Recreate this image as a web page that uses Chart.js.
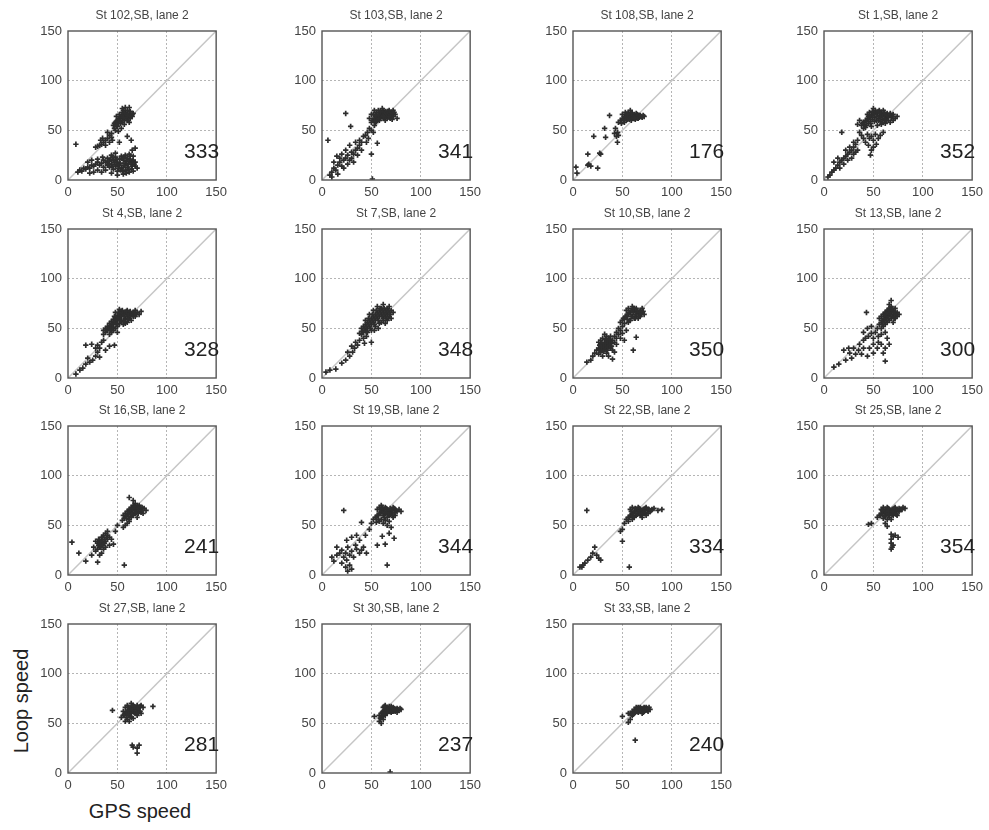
<!DOCTYPE html>
<html>
<head>
<meta charset="utf-8">
<script src="https://cdn.jsdelivr.net/npm/chart.js@4.4.0/dist/chart.umd.min.js"></script>
<style>
  body { margin: 0; background: #fff; width: 989px; height: 830px; position: relative; overflow: hidden;
         font-family: "Liberation Sans", Arial, sans-serif; }
  canvas.panel { position: absolute; }
  .axlab { position: absolute; font-size: 20px; color: #222; white-space: nowrap; line-height: 1; }
  #ylab { left: 21px; top: 701px; transform: translate(-50%, -50%) rotate(-90deg); }
  #xlab { left: 140px; top: 811px; transform: translate(-50%, -50%); }
</style>
</head>
<body>
<div id="ylab" class="axlab">Loop speed</div>
<div id="xlab" class="axlab">GPS speed</div>
<script>
// panel titles and vehicle counts
const stations = ['St 102,SB, lane 2', 'St 103,SB, lane 2', 'St 108,SB, lane 2', 'St 1,SB, lane 2',
                  'St 4,SB, lane 2', 'St 7,SB, lane 2', 'St 10,SB, lane 2', 'St 13,SB, lane 2',
                  'St 16,SB, lane 2', 'St 19,SB, lane 2', 'St 22,SB, lane 2', 'St 25,SB, lane 2',
                  'St 27,SB, lane 2', 'St 30,SB, lane 2', 'St 33,SB, lane 2'];
const counts = [333, 341, 176, 352, 328, 348, 350, 300, 241, 344, 334, 354, 281, 237, 240];
const axisTicks = [0, 50, 100, 150];
const diagonal = [0, 150];

// [GPS speed, Loop speed] pairs
const st102 = [[46,55],[48,58],[50,60],[52,62],[54,64],[56,66],[58,68],[60,67],[62,66],[64,65],[66,67],[50,54],[53,57],[55,60],[57,62],[59,64],[61,63],[63,62],[65,64],[52,66],[55,68],[58,64],[60,60],[62,58],[57,56],[54,52],[48,50],[51,49],[44,47],[47,52],[60,70],[63,69],[56,70],[49,64],[58,73],[55,72],[62,73],
  [47,57],[49,59],[51,61],[53,63],[55,65],[57,67],[59,66],[61,65],[63,67],[65,66],[51,57],[53,59],[55,58],[57,60],[59,62],[61,60],[63,64],[49,55],[56,63],[60,65],
  [42,45],[40,42],[38,40],[36,38],[34,36],[32,35],[30,34],[28,33],[38,35],[42,38],[45,40],[35,42],[40,48],[44,43],[33,40],[64,40],[68,32],[60,44],[52,38],[65,30],[8,36],
  [10,8],[12,10],[14,9],[16,12],[18,11],[20,13],[22,12],[24,15],[26,14],[28,16],[30,18],[32,15],[34,17],[36,20],[38,18],[40,22],[42,19],[44,16],[46,20],[48,23],[50,18],[52,21],[54,24],[56,20],[58,17],[60,22],[62,19],[64,16],[66,20],[68,14],[70,12],[66,9],[62,8],[58,10],[54,12],[50,9],[46,11],[42,13],[38,10],[34,8],[30,10],[26,8],[22,7],[44,25],[48,14],[52,15],[56,13],[60,13],[64,11],[68,18],[56,6],[50,5],[44,7],[40,15],[36,13],[58,25],[62,26],[48,27],[66,24],[24,20],[20,18],[30,21],[35,23],[40,19],
  [41,16],[43,21],[45,14],[47,18],[49,21],[51,12],[53,17],[55,22],[57,15],[59,19],[61,16],[63,21],[65,14],[67,16],[45,23],[49,16],[53,10],[57,23],[61,11],[65,18],[55,9],[59,7],[63,24]];
const st103 = [[50,58],[52,60],[54,62],[56,64],[58,66],[60,68],[62,70],[64,69],[66,67],[68,66],[70,65],[72,64],[74,66],[52,66],[55,68],[57,70],[60,64],[62,62],[64,60],[66,62],[68,63],[70,68],[72,70],[58,60],[61,66],[63,65],[65,64],[67,69],[69,62],[54,58],[56,61],[59,63],[48,62],[50,66],[53,70],[61,72],[76,62],[71,61],
  [51,60],[53,62],[55,64],[57,62],[59,65],[61,68],[63,67],[65,66],[67,64],[69,66],[71,67],[73,68],[55,59],[57,66],[59,69],[63,63],[66,69],[68,70],[62,64],[54,65],
  [48,52],[46,48],[50,50],[44,45],[52,48],[47,42],[56,37],[50,26],[51,1],[42,44],[45,38],[53,55],[38,40],
  [8,5],[10,8],[12,12],[14,10],[16,15],[18,18],[20,14],[22,20],[24,22],[26,25],[28,20],[30,28],[32,26],[34,30],[36,32],[38,35],[40,30],[20,26],[24,30],[28,35],[30,22],[34,38],[26,16],[22,12],[18,22],[15,24],[32,18],[36,25],[40,38],[12,18],[10,3],[16,6],
  [24,67],[6,40],[29,54]];
const st108 = [[48,60],[50,62],[52,64],[54,66],[56,68],[58,65],[60,63],[62,66],[64,64],[66,62],[68,65],[70,63],[72,64],[52,58],[55,61],[57,63],[59,60],[61,62],[63,61],[65,66],[67,63],[50,66],[53,68],[56,62],[58,70],[46,58],[49,57],[54,60],[60,67],
  [51,61],[53,63],[55,64],[57,61],[59,64],[61,65],[63,63],[65,62],[67,65],[69,64],[71,65],[55,66],[59,67],[62,62],[64,67],
  [37,65],[43,52],[45,48],[46,45],[42,47],[44,44],[32,52],[21,44],[33,43],[45,38],[15,26],[27,27],[15,15],[18,14],[25,12],[3,13],[4,7],[16,16],[28,26]];
const st1 = [[38,55],[40,58],[42,60],[44,62],[46,64],[48,66],[50,68],[52,70],[54,67],[56,65],[58,68],[60,66],[62,64],[64,67],[66,65],[68,63],[70,66],[72,62],[40,52],[43,55],[45,57],[47,59],[49,61],[51,63],[53,60],[55,62],[57,59],[59,61],[61,60],[63,62],[65,60],[67,58],[46,68],[50,72],[56,70],[60,70],[44,66],[54,55],[58,56],[48,54],[36,60],[34,56],[62,57],[70,60],[74,64],
  [41,56],[43,59],[45,61],[47,63],[49,65],[51,66],[53,68],[55,69],[57,67],[59,64],[61,68],[63,65],[65,63],[67,67],[69,64],[47,57],[51,59],[55,60],[59,58],[63,60],[49,69],[53,64],[57,63],[45,64],[61,62],[39,57],[42,53],
  [36,48],[38,45],[40,42],[42,38],[44,46],[46,42],[48,44],[50,40],[52,46],[55,42],[57,45],[60,48],[45,35],[50,33],[53,36],[48,30],[47,25],[34,40],[32,36],[30,33],[28,30],[26,28],[24,26],[22,24],[20,22],[18,20],[16,18],[14,15],[12,12],[10,10],[8,8],[6,5],[4,3],[24,20],[28,22],[30,26],[32,28],[26,33],[22,30],[20,16],[16,12],[34,30],[30,38],[18,48],[14,22],[10,18]];
const st4 = [[36,44],[38,46],[40,48],[42,50],[44,52],[46,54],[48,56],[50,58],[52,60],[54,62],[56,64],[58,66],[60,68],[62,66],[64,64],[66,66],[68,68],[70,66],[72,64],[74,67],[40,52],[42,55],[44,57],[46,59],[48,61],[50,63],[52,65],[54,67],[56,58],[58,60],[60,62],[62,60],[64,58],[66,62],[50,52],[52,55],[54,57],[46,48],[44,46],[48,50],[42,44],[38,50],[36,48],[56,54],[60,56],[62,63],[58,55],[68,62],[48,66],[52,69],[44,48],[50,46],
  [41,50],[43,53],[45,55],[47,57],[49,59],[51,61],[53,63],[55,65],[57,62],[59,64],[61,65],[63,62],[65,64],[67,65],[69,64],[45,51],[49,54],[53,58],[57,57],[61,59],[51,66],[55,68],[59,67],[63,67],[47,62],[39,48],[43,49],
  [8,4],[12,8],[15,10],[18,14],[22,16],[25,18],[28,22],[30,26],[32,30],[34,36],[18,33],[24,34],[30,33],[32,21],[38,28],[42,32],[47,33],[36,38],[28,30],[20,20]];
const st7 = [[40,44],[42,46],[44,48],[46,50],[48,52],[50,54],[52,56],[54,58],[56,60],[58,62],[60,64],[62,66],[64,68],[66,70],[68,72],[70,68],[72,66],[42,52],[44,54],[46,56],[48,58],[50,60],[52,62],[54,64],[56,66],[58,68],[60,70],[62,60],[64,62],[66,64],[68,62],[70,60],[46,46],[50,48],[54,52],[58,55],[62,58],[66,58],[44,58],[48,64],[52,68],[56,72],[62,74],[40,50],[60,56],[64,55],[38,45],[57,50],[53,48],[68,66],
  [43,50],[45,52],[47,54],[49,56],[51,58],[53,60],[55,62],[57,64],[59,66],[61,68],[63,70],[65,66],[67,68],[69,64],[47,60],[51,64],[55,68],[59,70],[57,58],[61,62],[65,60],[49,50],[53,54],[45,47],[63,64],[67,60],[41,47],
  [4,6],[8,8],[14,9],[20,15],[24,18],[28,22],[31,26],[33,30],[36,33],[38,38],[43,35],[50,36],[42,40],[34,36],[26,26],[30,32],[45,42]];
const st10 = [[48,56],[50,58],[52,60],[54,62],[56,64],[58,66],[60,68],[62,70],[64,67],[66,65],[68,68],[70,66],[72,64],[54,68],[56,70],[60,62],[62,60],[64,62],[66,60],[68,62],[70,70],[58,58],[52,55],[56,56],[60,72],[64,70],[50,52],[46,50],[48,48],
  [51,60],[53,62],[55,64],[57,66],[59,68],[61,66],[63,64],[65,68],[67,66],[69,64],[71,67],[59,62],[63,60],[57,58],[61,70],[55,59],[67,62],
  [44,46],[46,44],[42,42],[50,45],[54,48],[48,40],[52,38],
  [24,28],[26,30],[28,32],[30,34],[32,36],[34,38],[36,40],[38,42],[40,38],[42,36],[44,34],[26,24],[28,26],[30,28],[32,30],[34,32],[36,34],[38,30],[40,28],[42,26],[30,22],[34,25],[36,22],[26,36],[30,40],[34,42],[38,36],[44,40],[28,38],[32,44],
  [27,29],[29,31],[31,33],[33,35],[35,37],[37,39],[31,27],[33,29],[35,31],[37,33],[39,35],[29,35],[33,39],[27,33],[35,28],[39,32],
  [64,41],[61,28],[40,19],[14,16],[18,18],[20,22],[22,25]];
const st13 = [[56,54],[58,56],[60,58],[62,60],[64,62],[66,64],[68,66],[70,68],[72,70],[74,66],[76,64],[58,62],[60,64],[62,66],[64,68],[66,70],[68,72],[70,62],[72,60],[74,62],[62,54],[64,56],[66,58],[68,60],[60,52],[58,50],[70,56],[68,78],[66,74],[56,60],[72,65],
  [59,58],[61,60],[63,62],[65,64],[67,66],[69,68],[71,66],[73,64],[61,64],[63,66],[65,68],[67,70],[69,62],[65,60],[63,58],[71,60],[67,64],[59,54],[61,56],[69,70],
  [43,66],[54,50],[52,46],[48,45],[45,42],[42,40],[40,38],[50,40],[55,42],[58,44],[62,46],[64,40],[66,34],[62,30],[60,25],[62,17],[55,36],[50,34],[46,30],[40,30],[35,28],[30,30],[25,30],[20,28],[32,24],[38,24],[44,22],[50,25],[28,20],[22,18],[15,14],[10,11],[36,34],[26,25],[48,52],[44,50],[40,46],[54,30],[58,34]];
const st16 = [[55,55],[57,57],[59,59],[61,61],[63,63],[65,65],[67,67],[69,66],[71,64],[73,66],[75,68],[77,67],[79,65],[58,62],[60,64],[62,66],[64,68],[66,70],[68,72],[70,70],[72,70],[74,63],[62,56],[64,58],[66,60],[68,62],[60,52],[58,50],[56,48],[62,78],[66,75],[76,62],[56,60],[70,58],
  [59,57],[61,59],[63,61],[65,63],[67,65],[69,68],[71,67],[73,68],[75,65],[61,64],[63,66],[65,67],[67,69],[69,63],[65,61],[71,62],[59,60],[62,54],
  [28,24],[30,26],[32,28],[34,30],[36,32],[38,34],[40,36],[42,38],[30,32],[32,35],[34,38],[36,40],[38,42],[40,44],[42,30],[36,26],[34,22],[32,20],[38,28],[44,36],[46,31],[26,28],[28,34],[40,40],[48,44],[50,50],
  [31,30],[33,32],[35,34],[37,36],[39,38],[33,28],[35,30],[37,32],[31,36],[35,38],
  [4,33],[11,22],[18,14],[30,13],[57,10],[24,20]];
const st19 = [[52,56],[54,58],[56,60],[58,62],[60,64],[62,66],[64,68],[66,66],[68,64],[70,66],[72,68],[74,66],[76,64],[78,66],[56,66],[58,68],[60,70],[62,60],[64,62],[66,58],[68,60],[70,62],[72,58],[74,60],[60,56],[64,55],[68,54],[66,50],[70,48],[62,52],[58,54],[55,53],[50,52],[80,64],
  [55,58],[57,60],[59,62],[61,64],[63,66],[65,67],[67,65],[69,67],[71,65],[73,67],[75,65],[61,68],[63,62],[65,63],[67,61],[69,61],[71,60],[59,66],[57,56],[63,58],[73,63],
  [22,65],[40,53],[10,18],[12,14],[15,20],[15,28],[18,22],[20,25],[22,18],[24,22],[25,15],[26,28],[28,10],[28,20],[30,6],[30,24],[32,18],[34,30],[35,26],[38,22],[40,25],[42,28],[45,22],[38,35],[35,40],[30,38],[25,35],[20,12],[24,8],[26,4],[44,40],[48,46],[64,31],[66,10],[73,37],[61,39],[68,42],[56,30]];
const st22 = [[54,56],[56,58],[58,60],[60,62],[62,64],[64,66],[66,68],[68,66],[70,64],[72,66],[74,68],[76,66],[78,64],[80,66],[58,66],[60,68],[62,58],[64,60],[66,62],[68,60],[70,58],[72,62],[74,60],[56,54],[60,56],[52,52],[82,67],[86,65],[90,66],[76,62],
  [57,58],[59,60],[61,62],[63,64],[65,66],[67,67],[69,65],[71,66],[73,67],[75,65],[77,66],[63,67],[65,61],[67,63],[69,61],[71,62],[61,59],[59,64],[73,63],[79,65],
  [14,65],[50,46],[48,44],[50,34],[57,8],[7,8],[9,8],[12,12],[15,15],[18,18],[22,28],[26,17],[28,15],[20,22],[24,20],[10,10]];
const st25 = [[54,58],[56,60],[58,62],[60,64],[62,66],[64,68],[66,66],[68,64],[70,66],[72,68],[74,66],[76,64],[78,66],[80,68],[82,67],[58,66],[60,68],[62,60],[64,62],[66,60],[68,62],[70,60],[72,62],[74,60],[60,57],[64,56],[66,58],[68,56],[70,64],[76,67],
  [57,60],[59,62],[61,64],[63,66],[65,67],[67,65],[69,66],[71,67],[73,65],[75,65],[77,66],[63,63],[65,61],[67,63],[69,61],[71,63],[61,59],[59,65],[73,61],[79,66],[65,64],[69,64],
  [45,51],[48,52],[64,49],[62,52],[68,41],[68,36],[68,32],[69,28],[68,26],[70,39],[72,40],[75,38],[70,30]];
const st27 = [[54,56],[56,58],[58,60],[60,62],[62,64],[64,66],[66,68],[68,66],[70,64],[72,66],[74,68],[76,66],[58,66],[60,68],[62,58],[64,60],[66,62],[68,60],[70,58],[72,62],[74,60],[60,54],[62,52],[64,56],[66,55],[56,62],[70,68],[64,70],[58,52],
  [57,59],[59,61],[61,63],[63,65],[65,67],[67,65],[69,65],[71,65],[73,67],[61,66],[63,61],[65,63],[67,61],[69,61],[71,60],[73,62],[59,56],[63,57],[61,59],[67,67],
  [45,63],[86,67],[65,28],[66,26],[70,25],[72,28],[70,20]];
const st30 = [[58,58],[60,60],[62,62],[64,64],[66,66],[68,65],[70,64],[72,66],[74,64],[76,65],[78,63],[80,64],[62,66],[64,68],[66,60],[68,62],[70,61],[72,62],[74,62],[60,56],[62,54],[58,52],[68,67],[76,61],[60,50],[64,58],
  [61,61],[63,63],[65,65],[67,64],[69,65],[71,65],[73,65],[75,64],[77,64],[63,67],[65,61],[67,62],[69,62],[71,62],[73,63],[61,57],[63,59],[59,55],[79,65],[66,63],[70,67],
  [53,57],[69,1]];
const st33 = [[58,60],[60,62],[62,64],[64,66],[66,64],[68,62],[70,64],[72,66],[74,64],[76,62],[78,64],[62,60],[64,62],[66,66],[68,66],[70,60],[72,62],[74,66],[60,58],[56,60],[77,66],[66,61],
  [61,61],[63,63],[65,65],[67,63],[69,63],[71,65],[73,65],[75,63],[63,61],[65,62],[67,65],[69,65],[71,61],[73,63],[61,59],[59,59],[75,65],[68,64],
  [50,57],[56,51],[58,54],[63,33]];

const panelPoints = [st102, st103, st108, st1, st4, st7, st10, st13, st16, st19, st22, st25, st27, st30, st33];

// page layout of the plot boxes
const colLeft = [68, 322, 573, 824];
const rowTop = [31, 229, 426, 624];
const boxW = 150, boxH = 149;
const padL = 40, padT = 26, padR = 14, padB = 22;

const font = '"Liberation Sans", Arial, sans-serif';

const panelDecor = {
  id: 'panelDecor',
  afterDraw(chart, args, opts) {
    const { ctx, chartArea: a } = chart;
    ctx.save();
    ctx.strokeStyle = '#555';
    ctx.lineWidth = 1.4;
    ctx.strokeRect(a.left, a.top, a.right - a.left, a.bottom - a.top);
    ctx.fillStyle = '#444';
    ctx.font = '12px ' + font;
    ctx.textAlign = 'center';
    ctx.textBaseline = 'middle';
    ctx.fillText(opts.title, (a.left + a.right) / 2, a.top - 15);
    ctx.fillStyle = '#222';
    ctx.font = '21px ' + font;
    ctx.textAlign = 'right';
    ctx.fillText(String(opts.count), a.right + 3, a.bottom - 28);
    ctx.restore();
  }
};

function axis(isX) {
  return {
    type: 'linear',
    min: 0,
    max: 150,
    afterBuildTicks: s => { s.ticks = axisTicks.map(v => ({ value: v })); },
    afterFit: s => { if (isX) s.height = padB; else s.width = padL; },
    grid: {
      drawTicks: false,
      lineWidth: 1,
      color: c => (c.tick && (c.tick.value === 0 || c.tick.value === 150)) ? 'rgba(0,0,0,0)' : '#b5b5b5'
    },
    border: { display: false, dash: [2, 2] },
    ticks: { padding: isX ? 5 : 6, color: '#444', font: { size: 13, family: font } }
  };
}

stations.forEach((name, i) => {
  const col = i % 4, row = Math.floor(i / 4);
  const cv = document.createElement('canvas');
  cv.className = 'panel';
  cv.width = padL + boxW + padR;
  cv.height = padT + boxH + padB;
  cv.style.left = (colLeft[col] - padL) + 'px';
  cv.style.top = (rowTop[row] - padT) + 'px';
  document.body.appendChild(cv);

  new Chart(cv.getContext('2d'), {
    type: 'scatter',
    data: {
      datasets: [
        {
          type: 'line',
          data: diagonal.map(v => ({ x: v, y: v })),
          borderColor: '#c6c6c6',
          borderWidth: 1.5,
          pointRadius: 0,
          order: 2
        },
        {
          data: panelPoints[i].map(p => ({ x: p[0], y: p[1] })),
          pointStyle: 'cross',
          pointRadius: 2.7,
          borderColor: '#2e2e2e',
          backgroundColor: '#2e2e2e',
          borderWidth: 1.7,
          order: 1
        }
      ]
    },
    options: {
      responsive: false,
      animation: false,
      events: [],
      layout: { padding: { top: padT, right: padR, left: 0, bottom: 0 } },
      plugins: {
        legend: { display: false },
        tooltip: { enabled: false },
        panelDecor: { title: name, count: counts[i] }
      },
      scales: { x: axis(true), y: axis(false) }
    },
    plugins: [panelDecor]
  });
});
</script>
</body>
</html>
